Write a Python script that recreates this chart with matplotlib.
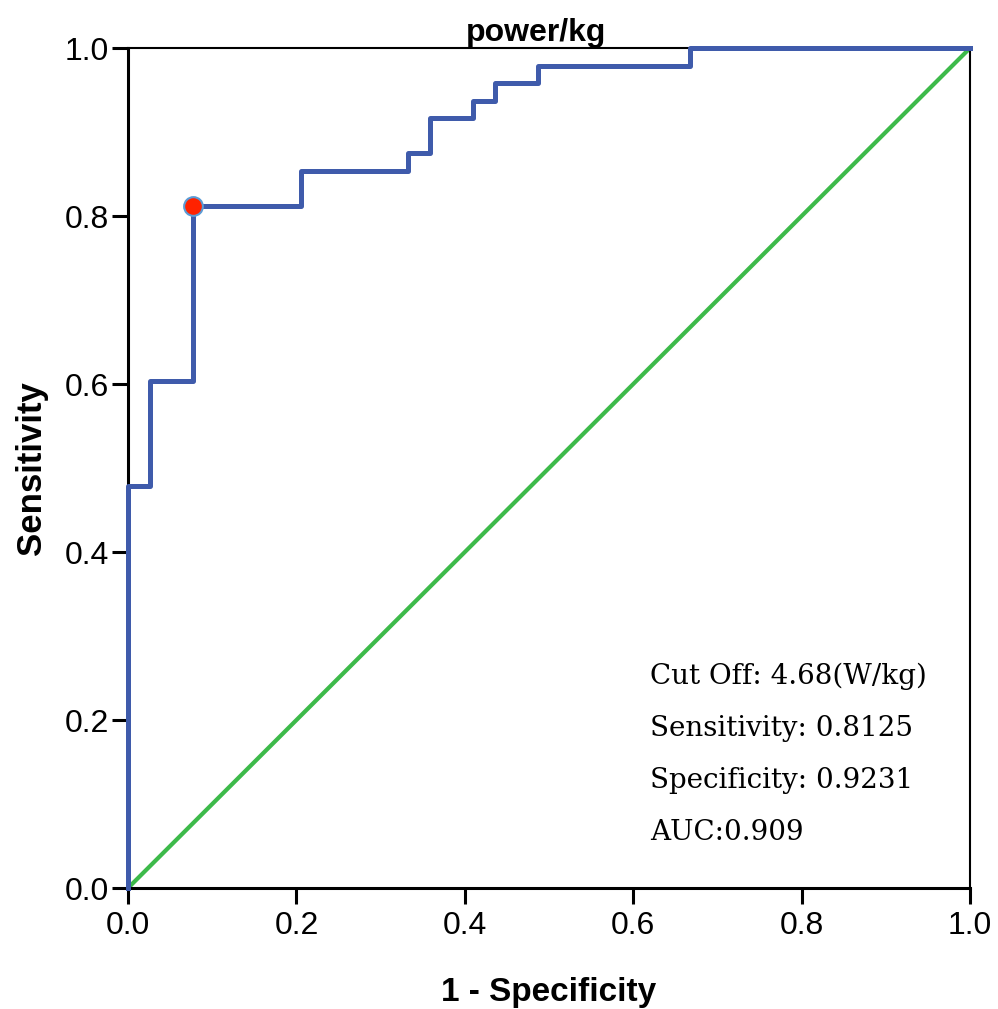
import matplotlib
matplotlib.use("Agg")
import matplotlib.pyplot as plt

# ROC curve vertices (1 - specificity, sensitivity)
fpr = [0.0, 0.0, 0.026, 0.077, 0.205, 0.333, 0.359, 0.410, 0.436, 0.487, 0.667, 1.0]
tpr = [0.0, 0.479, 0.604, 0.8125, 0.854, 0.875, 0.917, 0.9375, 0.958, 0.979, 1.0, 1.0]

ref_x = [0.0, 1.0]
ref_y = [0.0, 1.0]

cut_x = [0.0769]
cut_y = [0.8125]

ticks = [0.0, 0.2, 0.4, 0.6, 0.8, 1.0]
tick_labels = ["0.0", "0.2", "0.4", "0.6", "0.8", "1.0"]

notes = ["Cut Off: 4.68(W/kg)", "Sensitivity: 0.8125",
         "Specificity: 0.9231", "AUC:0.909"]


def rocChart():
    plt.rcParams["font.family"] = ["Liberation Sans", "DejaVu Sans"]
    fig = plt.figure(figsize=(9.98, 10.09), dpi=100)
    ax = fig.add_axes([0.1283, 0.1199, 0.8437, 0.8325])

    ax.plot(ref_x, ref_y, color="#3dba4a", linewidth=3.0, zorder=2)
    ax.plot(fpr, tpr, color="#3f5bab", linewidth=3.6, drawstyle="steps-post",
            zorder=3, clip_on=False)
    ax.plot(cut_x, cut_y, "o", color="#ff2200", markeredgecolor="#5b9bd5",
            markeredgewidth=1.5, markersize=13.5, zorder=4, clip_on=False)

    ax.set_xlim(0, 1)
    ax.set_ylim(0, 1)
    ax.set_xticks(ticks)
    ax.set_xticklabels(tick_labels)
    ax.set_yticks(ticks)
    ax.set_yticklabels(tick_labels)
    ax.tick_params(direction="out", length=11.5, width=2.2, labelsize=23, pad=2)
    ax.tick_params(axis="x", pad=5)

    ax.spines["left"].set_linewidth(2.2)
    ax.spines["bottom"].set_linewidth(2.2)
    ax.spines["top"].set_linewidth(1.5)
    ax.spines["right"].set_linewidth(1.5)

    ax.set_title("power/kg", fontsize=23, fontweight="bold", pad=4, x=0.484)
    ax.set_xlabel("1 - Specificity", fontsize=24, fontweight="bold", labelpad=26)
    ax.set_ylabel("Sensitivity", fontsize=25, fontweight="bold", labelpad=12)

    for i, s in enumerate(notes):
        ax.text(0.62, 0.252 - i * 0.062, s, fontsize=20,
                family=["DejaVu Serif"],
                transform=ax.transAxes, va="center", ha="left")

    fig.savefig("out.png", dpi=100)


if __name__ == "__main__":
    rocChart()
